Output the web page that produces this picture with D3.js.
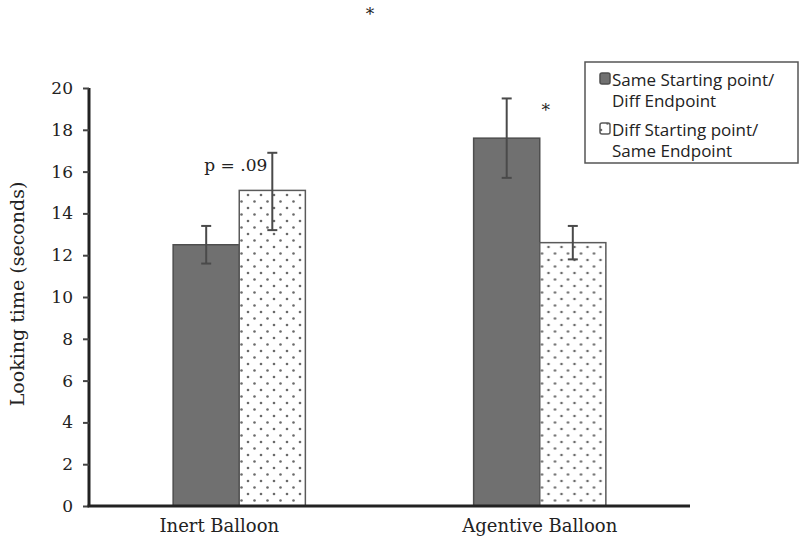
<!DOCTYPE html>
<html lang="en">
<head>
<meta charset="UTF-8">
<title>Looking time</title>
<script src="https://cdn.jsdelivr.net/npm/d3@7"></script>
<style>
    body { margin: 0; background: #fff; }
    .tick text { font-family: "DejaVu Serif", "Liberation Serif", serif; }
</style>
</head>
<body>
<div id="chart"></div>
<script>
    // values
    const categories = ["Inert Balloon", "Agentive Balloon"];
    const seriesNames = ["Same Starting point/ Diff Endpoint", "Diff Starting point/ Same Endpoint"];
    const means = [[12.5, 15.1], [17.6, 12.6]];
    const errLow = [[11.6, 13.2], [15.7, 11.8]];
    const errHigh = [[13.4, 16.9], [19.5, 13.4]];
    const yTicks = [0, 2, 4, 6, 8, 10, 12, 14, 16, 18, 20];

    const W = 802, H = 542;
    const margin = { top: 88, right: 112, bottom: 36, left: 89 };
    const width = W - margin.left - margin.right,
          height = H - margin.top - margin.bottom;

    const root = d3.select("#chart").append("svg")
        .attr("width", W).attr("height", H);

    const defs = root.append("defs");
    const pat = defs.append("pattern")
        .attr("id", "dots")
        .attr("patternUnits", "userSpaceOnUse")
        .attr("width", 13).attr("height", 13);
    pat.append("rect").attr("width", 13).attr("height", 13).attr("fill", "#fff");
    pat.append("circle").attr("cx", 3).attr("cy", 3).attr("r", 1.3).attr("fill", "#6a6a6a");
    pat.append("circle").attr("cx", 9.5).attr("cy", 9.5).attr("r", 1.3).attr("fill", "#6a6a6a");

    const svg = root.append("g")
        .attr("transform", `translate(${margin.left},${margin.top})`);

    const x0 = d3.scaleBand().domain(categories).range([0, width]).padding(0);
    const x1 = d3.scaleBand().domain([0, 1])
        .range([x0.bandwidth() * 0.28, x0.bandwidth() * 0.72]).padding(0);
    const y = d3.scaleLinear().domain([0, 20]).range([height, 0]);

    const fills = ["#707070", "url(#dots)"];
    const strokes = ["#4e4e4e", "#5a5a5a"];

    // bars
    const groups = svg.selectAll(".grp")
        .data(categories)
        .join("g")
        .attr("class", "grp")
        .attr("transform", d => `translate(${x0(d)},0)`);

    groups.selectAll("rect")
        .data((d, i) => means[i].map((v, j) => ({ v, j })))
        .join("rect")
        .attr("x", d => x1(d.j))
        .attr("y", d => y(d.v))
        .attr("width", x1.bandwidth())
        .attr("height", d => y(0) - y(d.v))
        .attr("fill", d => fills[d.j])
        .attr("stroke", d => strokes[d.j])
        .attr("stroke-width", 1.5);

    // error bars
    groups.each(function (c, i) {
        const g = d3.select(this);
        means[i].forEach((v, j) => {
            const cx = x1(j) + x1.bandwidth() / 2;
            g.append("line")
                .attr("x1", cx).attr("x2", cx)
                .attr("y1", y(errLow[i][j])).attr("y2", y(errHigh[i][j]))
                .attr("stroke", "#4a4a4a").attr("stroke-width", 2);
            [errLow[i][j], errHigh[i][j]].forEach(e => {
                g.append("line")
                    .attr("x1", cx - 5).attr("x2", cx + 5)
                    .attr("y1", y(e)).attr("y2", y(e))
                    .attr("stroke", "#4a4a4a").attr("stroke-width", 2);
            });
        });
    });

    // axes
    const yAxis = svg.append("g")
        .call(d3.axisLeft(y).tickValues(yTicks).tickSize(6).tickPadding(10));
    yAxis.select(".domain").attr("stroke", "#222").attr("stroke-width", 3)
        .attr("d", `M0,${height}V0`);
    yAxis.selectAll(".tick line").attr("stroke", "#444").attr("stroke-width", 2);
    yAxis.selectAll(".tick text").attr("font-size", 17).attr("fill", "#222");

    const xAxis = svg.append("g")
        .attr("transform", `translate(0,${height})`)
        .call(d3.axisBottom(x0).tickSize(0).tickPadding(12));
    xAxis.select(".domain").attr("stroke", "#222").attr("stroke-width", 3)
        .attr("d", `M-1.5,0H${width}`);
    // the first label sits a little left of its group in the original
    xAxis.selectAll(".tick text").attr("font-size", 18).attr("fill", "#222")
        .attr("dy", "0.8em")
        .attr("dx", (d, i) => i === 0 ? -20 : 0);

    // y axis title
    root.append("text")
        .attr("transform", `translate(24,${margin.top + height / 2 - 3}) rotate(-90)`)
        .attr("text-anchor", "middle")
        .attr("font-family", "DejaVu Serif, Liberation Serif, serif")
        .attr("font-size", 19).attr("fill", "#222")
        .text("Looking time (seconds)");

    // annotations
    const serif = "DejaVu Serif, Liberation Serif, serif";
    svg.append("text")
        .attr("x", x0(categories[0]) + x1(1) + x1.bandwidth() / 2 - 5)
        .attr("y", y(errHigh[0][1]) + 18)
        .attr("text-anchor", "end")
        .attr("font-family", serif).attr("font-size", 17).attr("fill", "#222")
        .text("p = .09");
    svg.append("text")
        .attr("x", x0(categories[1]) + x1(1) + 6)
        .attr("y", y(errHigh[1][0]) + 18)
        .attr("text-anchor", "middle")
        .attr("font-family", serif).attr("font-size", 17).attr("fill", "#222")
        .text("*");
    root.append("text")
        .attr("x", 370).attr("y", 20)
        .attr("text-anchor", "middle")
        .attr("font-family", serif).attr("font-size", 17).attr("fill", "#222")
        .text("*");

    // legend
    const legend = root.append("g").attr("transform", "translate(585,62)");
    legend.append("rect")
        .attr("width", 213).attr("height", 101)
        .attr("fill", "#fff").attr("stroke", "#555").attr("stroke-width", 1.5);
    const sans = "Open Sans, Liberation Sans, sans-serif";
    seriesNames.forEach((name, i) => {
        const gy = 10 + i * 50;
        legend.append("rect")
            .attr("x", 15).attr("y", gy + 1)
            .attr("width", 10).attr("height", 11)
            .attr("rx", 2)
            .attr("fill", fills[i]).attr("stroke", strokes[i]).attr("stroke-width", 1.5);
        const parts = name.split(" ");
        const line1 = parts.slice(0, 3).join(" ");
        const line2 = parts.slice(3).join(" ");
        legend.append("text")
            .attr("x", 27).attr("y", gy + 14)
            .attr("font-family", sans).attr("font-size", 17).attr("fill", "#222")
            .text(line1);
        legend.append("text")
            .attr("x", 27).attr("y", gy + 35)
            .attr("font-family", sans).attr("font-size", 17).attr("fill", "#222")
            .text(line2);
    });
</script>
</body>
</html>
